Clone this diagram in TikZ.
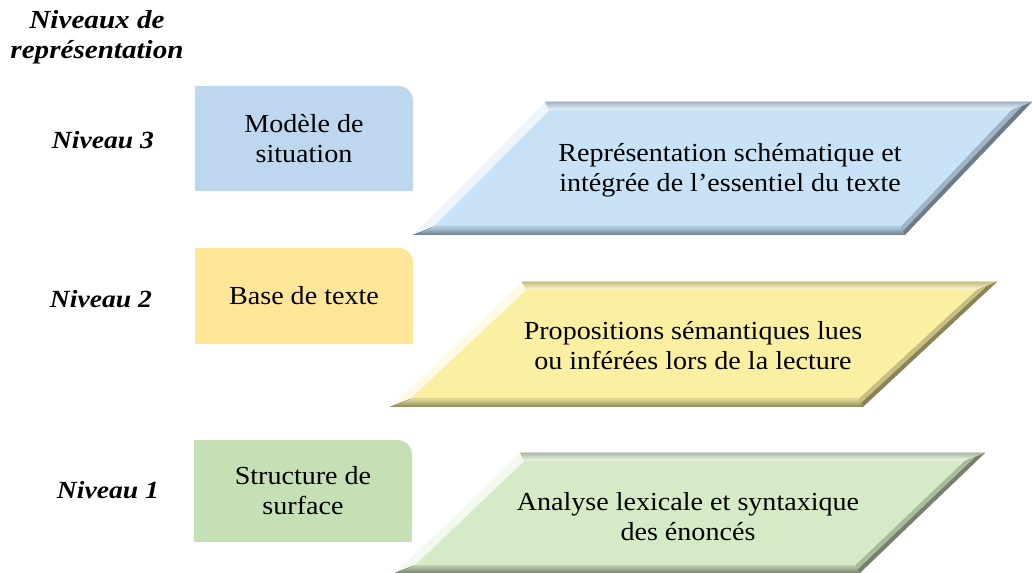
\documentclass[tikz,border=0pt]{standalone}
\usepackage{fontspec}
\setmainfont{Liberation Serif}[FakeStretch=1.08]
\newfontfamily\nivfont{Liberation Serif}[FakeStretch=1.12]
\usepackage{xcolor}
\usetikzlibrary{calc,backgrounds}
\definecolor{boxblue}{RGB}{189,215,238}
\definecolor{boxyellow}{RGB}{255,230,153}
\definecolor{boxgreen}{RGB}{197,224,180}
\definecolor{parablue}{RGB}{200,226,248}
\definecolor{parayellow}{RGB}{251,239,162}
\definecolor{paragreen}{RGB}{213,235,197}

\begin{document}
\begin{tikzpicture}[x=0.75pt,y=0.75pt,yscale=-1,xscale=1,
  levelbox/.style={rounded corners=11pt, minimum width=163.5pt, inner sep=0pt, align=center, font=\fontsize{19.5}{22.5}\selectfont},
  paratext/.style={align=center, font=\fontsize{19.5}{22.5}\selectfont},
  nivtext/.style={font=\nivfont\bfseries\itshape\fontsize{18.5}{22}\selectfont},
  bevface/.style={fill=#1},
  bevtop/.style={top color=#1!80!black, bottom color=#1!30!white},
  bevleft/.style={fill=#1!30!white},
  bevbottom/.style={top color=#1!90!black, bottom color=#1!55!black},
  bevrightin/.style={fill=#1!80!black},
  bevrightout/.style={fill=#1!55!black}]
\useasboundingbox (0,0) rectangle (1032,573);

% Title
\node[nivtext, font=\nivfont\bfseries\itshape\fontsize{19.5}{22.5}\selectfont, align=center] (titre) at (97,37) {Niveaux de\\représentation};

% Level labels
\node[nivtext] (niv3) at (103,140) {Niveau 3};
\node[nivtext] (niv2) at (101,299) {Niveau 2};
\node[nivtext] (niv1) at (108,490) {Niveau 1};

%Shape: Level boxes
\node[levelbox, fill=boxblue, minimum height=78.75pt] (sit) at (304,138.5) {Modèle de\\situation};
\node[levelbox, fill=boxyellow, minimum height=72pt] (base) at (304,296) {Base de texte};
\node[levelbox, fill=boxgreen, minimum height=76.5pt] (surf) at (303,491) {Structure de\\surface};
\begin{scope}[on background layer]
\fill[boxblue] (sit.south west) rectangle (sit.north);
\fill[boxblue] (sit.south west) rectangle (sit.east);
\fill[boxyellow] (base.south west) rectangle (base.north);
\fill[boxyellow] (base.south west) rectangle (base.east);
\fill[boxgreen] (surf.south west) rectangle (surf.north);
\fill[boxgreen] (surf.south west) rectangle (surf.east);
\end{scope}

%Shape: Parallelogram niveau 3
\coordinate (p3a) at (545,102);
\coordinate (p3b) at (1032,102);
\coordinate (p3c) at (905,235);
\coordinate (p3d) at (413,235);
\coordinate (p3ai) at ($(p3a)+(4,8)$);
\coordinate (p3bi) at ($(p3b)+(-20,8)$);
\coordinate (p3ci) at ($(p3c)+(-4,-8)$);
\coordinate (p3di) at ($(p3d)+(20,-8)$);
\fill[bevface=parablue] (p3ai) -- (p3bi) -- (p3ci) -- (p3di) -- cycle;
\fill[bevtop=parablue] (p3a) -- (p3b) -- (p3bi) -- (p3ai) -- cycle;
\fill[bevleft=parablue] (p3a) -- (p3ai) -- (p3di) -- (p3d) -- cycle;
\fill[bevbottom=parablue] (p3d) -- (p3di) -- (p3ci) -- (p3c) -- cycle;
\fill[bevrightout=parablue] (p3b) -- (p3c) -- (p3ci) -- (p3bi) -- cycle;
\fill[bevrightin=parablue] ($(p3b)!0.5!(p3bi)$) -- ($(p3c)!0.5!(p3ci)$) -- (p3ci) -- (p3bi) -- cycle;

%Shape: Parallelogram niveau 2
\coordinate (p2a) at (522,282);
\coordinate (p2b) at (997,282);
\coordinate (p2c) at (863,407);
\coordinate (p2d) at (390,407);
\coordinate (p2ai) at ($(p2a)+(4,8)$);
\coordinate (p2bi) at ($(p2b)+(-20,8)$);
\coordinate (p2ci) at ($(p2c)+(-4,-8)$);
\coordinate (p2di) at ($(p2d)+(20,-8)$);
\fill[bevface=parayellow] (p2ai) -- (p2bi) -- (p2ci) -- (p2di) -- cycle;
\fill[bevtop=parayellow] (p2a) -- (p2b) -- (p2bi) -- (p2ai) -- cycle;
\fill[bevleft=parayellow] (p2a) -- (p2ai) -- (p2di) -- (p2d) -- cycle;
\fill[bevbottom=parayellow] (p2d) -- (p2di) -- (p2ci) -- (p2c) -- cycle;
\fill[bevrightout=parayellow] (p2b) -- (p2c) -- (p2ci) -- (p2bi) -- cycle;
\fill[bevrightin=parayellow] ($(p2b)!0.5!(p2bi)$) -- ($(p2c)!0.5!(p2ci)$) -- (p2ci) -- (p2bi) -- cycle;

%Shape: Parallelogram niveau 1
\coordinate (p1a) at (520,453);
\coordinate (p1b) at (985,453);
\coordinate (p1c) at (860,573);
\coordinate (p1d) at (395,573);
\coordinate (p1ai) at ($(p1a)+(4,8)$);
\coordinate (p1bi) at ($(p1b)+(-20,8)$);
\coordinate (p1ci) at ($(p1c)+(-4,-8)$);
\coordinate (p1di) at ($(p1d)+(20,-8)$);
\fill[bevface=paragreen] (p1ai) -- (p1bi) -- (p1ci) -- (p1di) -- cycle;
\fill[bevtop=paragreen] (p1a) -- (p1b) -- (p1bi) -- (p1ai) -- cycle;
\fill[bevleft=paragreen] (p1a) -- (p1ai) -- (p1di) -- (p1d) -- cycle;
\fill[bevbottom=paragreen] (p1d) -- (p1di) -- (p1ci) -- (p1c) -- cycle;
\fill[bevrightout=paragreen] (p1b) -- (p1c) -- (p1ci) -- (p1bi) -- cycle;
\fill[bevrightin=paragreen] ($(p1b)!0.5!(p1bi)$) -- ($(p1c)!0.5!(p1ci)$) -- (p1ci) -- (p1bi) -- cycle;

% Text Node
\node[paratext] (rep) at (730,170) {Représentation schématique et\\intégrée de l’essentiel du texte};
% Text Node
\node[paratext] (prop) at (693,346) {Propositions sémantiques lues\\ou inférées lors de la lecture};
% Text Node
\node[paratext] (anal) at (688,517) {Analyse lexicale et syntaxique\\des énoncés};

\end{tikzpicture}
\end{document}
